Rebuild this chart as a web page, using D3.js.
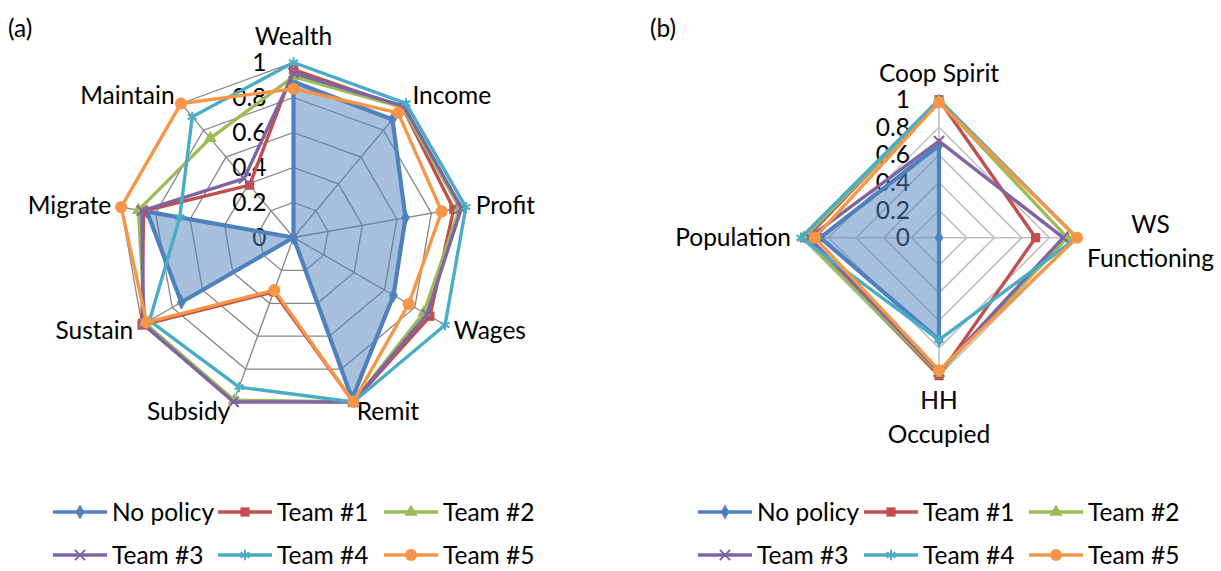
<!DOCTYPE html>
<meta charset="utf-8">
<style>
body { margin: 0; background: #fff; }
text { font-family: Lato, "Open Sans", sans-serif; font-size: 24.5px; fill: #000; }
</style>
<body>
<script src="https://cdn.jsdelivr.net/npm/d3@7"></script>
<script>

// ---- data ----
var seriesNames = ["No policy", "Team #1", "Team #2", "Team #3", "Team #4", "Team #5"];
var ticks = [0, 0.2, 0.4, 0.6, 0.8, 1];

var axesA = ["Wealth", "Income", "Profit", "Wages", "Remit", "Subsidy", "Sustain", "Migrate", "Maintain"];
var noPolicyA = [0.89, 0.88, 0.65, 0.66, 0.98, 0, 0.74, 0.85, 0];
var team1A = [0.96, 0.97, 0.93, 0.90, 1.0, 0.33, 1.0, 0.87, 0.39];
var team2A = [0.92, 0.97, 0.965, 0.86, 1.0, 0.99, 0.98, 0.90, 0.74];
var team3A = [0.94, 0.98, 0.975, 0.88, 1.0, 1.0, 0.99, 0.88, 0.44];
var team4A = [1.0, 1.0, 1.0, 1.0, 1.0, 0.91, 0.95, 0.66, 0.90];
var team5A = [0.85, 0.93, 0.86, 0.76, 1.0, 0.32, 0.97, 1.0, 1.0];

var axesB = [["Coop Spirit"], ["WS", "Functioning"], ["HH", "Occupied"], ["Population"]];
var noPolicyB = [0.67, 0, 0.74, 0.86];
var team1B = [1.0, 0.70, 1.0, 0.96];
var team2B = [0.99, 0.93, 0.98, 0.98];
var team3B = [0.70, 0.90, 0.97, 0.94];
var team4B = [1.0, 1.0, 0.74, 1.0];
var team5B = [0.98, 1.0, 0.96, 0.90];

var colors = ["#4F81BD", "#C0504D", "#9BBB59", "#8064A2", "#4BACC6", "#F79646"];
var symbols = [d3.symbolDiamond, d3.symbolSquare, d3.symbolTriangle, d3.symbolX, d3.symbolAsterisk, d3.symbolCircle];
var symSize = [65, 85, 75, 70, 75, 115];
var stroked = [false, false, false, true, true, false];

var width = 1221, height = 571;
var svg = d3.select("body").append("svg")
    .attr("width", width)
    .attr("height", height);

function radar(opt) {
  var g = svg.append("g").attr("transform", "translate(" + opt.cx + "," + opt.cy + ")");
  var n = opt.axes.length;
  var r = d3.scaleLinear().domain([0, 1]).range([0, opt.R]);
  var ang = function(i) { return i * 2 * Math.PI / n; };

  // grid rings
  var ring = d3.lineRadial()
      .angle(function(d, i) { return ang(i); })
      .radius(function(d) { return r(d); })
      .curve(d3.curveLinearClosed);
  ticks.slice(1).forEach(function(t) {
    g.append("path")
        .attr("d", ring(d3.range(n).map(function() { return t; })))
        .attr("fill", "none")
        .attr("stroke", opt.grid)
        .attr("stroke-width", opt.gridW);
  });
  // spokes
  d3.range(n).forEach(function(i) {
    g.append("line")
        .attr("x1", 0).attr("y1", 0)
        .attr("x2", r(1) * Math.sin(ang(i)))
        .attr("y2", -r(1) * Math.cos(ang(i)))
        .attr("stroke", opt.grid)
        .attr("stroke-width", opt.gridW);
  });

  // tick labels (sit under the series)
  g.selectAll(".tick").data(ticks).enter().append("text")
      .attr("x", opt.tickX)
      .attr("y", function(d) { return -r(d); })
      .attr("dy", "0.35em")
      .attr("text-anchor", "end")
      .text(function(d) { return d; });

  // axis labels
  opt.axes.forEach(function(lines, i) {
    if (typeof lines === "string") lines = [lines];
    var s = Math.sin(ang(i)), c = Math.cos(ang(i));
    var rr = opt.R + 10;
    var x = rr * s, y = -rr * c;
    var lh = 34;
    var t = g.append("text").attr("text-anchor", "middle");
    var spans = lines.map(function(l) { return t.append("tspan").text(l); });
    var maxW = d3.max(spans, function(sp) { return sp.node().getComputedTextLength(); });
    var mx;
    if (s > 0.1) mx = x + maxW / 2;
    else if (s < -0.1) mx = x - maxW / 2;
    else mx = x;
    var y0;
    if (Math.abs(s) <= 0.1) {
      if (c > 0) y0 = y - 16 - (lines.length - 1) * lh;
      else y0 = y + 15;
    } else {
      y0 = y - (lines.length - 1) * lh / 2 + (lines.length > 1 ? 4 : 0);
    }
    spans.forEach(function(sp, k) {
      sp.attr("x", mx).attr("y", y0 + k * lh).attr("dy", "0.35em");
    });
  });

  var line = d3.lineRadial()
      .angle(function(d, i) { return ang(i); })
      .radius(function(d) { return r(d); })
      .curve(d3.curveLinearClosed);

  // no policy is a filled radar
  g.append("path")
      .attr("d", line(opt.series[0]))
      .attr("fill", colors[0])
      .attr("fill-opacity", 0.5)
      .attr("stroke", "none");

  opt.series.forEach(function(vals, si) {
    var sg = g.append("g");
    sg.append("path")
        .attr("d", line(vals))
        .attr("fill", "none")
        .attr("stroke", colors[si])
        .attr("stroke-width", si == 0 ? 4.2 : 3.4)
        .attr("stroke-linejoin", "round");
    sg.selectAll("path.m").data(vals).enter().append("path")
        .attr("class", "m")
        .attr("transform", function(d, i) {
          return "translate(" + (r(d) * Math.sin(ang(i))) + "," + (-r(d) * Math.cos(ang(i))) + ")";
        })
        .attr("d", d3.symbol().type(symbols[si]).size(symSize[si]))
        .attr("fill", stroked[si] ? "none" : colors[si])
        .attr("stroke", stroked[si] ? colors[si] : "none")
        .attr("stroke-width", 2);
  });
}

function legend(x0s, y0s) {
  seriesNames.forEach(function(name, i) {
    var x = x0s[i % 3], y = y0s[Math.floor(i / 3)];
    var g = svg.append("g").attr("transform", "translate(" + x + "," + y + ")");
    g.append("line").attr("x1", 0).attr("x2", 54).attr("y1", 0).attr("y2", 0)
        .attr("stroke", colors[i]).attr("stroke-width", 3.4);
    g.append("path")
        .attr("transform", "translate(27,0)")
        .attr("d", d3.symbol().type(symbols[i]).size(symSize[i]))
        .attr("fill", stroked[i] ? "none" : colors[i])
        .attr("stroke", stroked[i] ? colors[i] : "none")
        .attr("stroke-width", 2);
    g.append("text").attr("x", 59).attr("y", 0).attr("dy", "0.35em").text(name);
  });
}

radar({
  cx: 293.5, cy: 237.5, R: 175,
  axes: axesA,
  series: [noPolicyA, team1A, team2A, team3A, team4A, team5A],
  grid: "#868686", gridW: 1.3, tickX: -27
});

radar({
  cx: 939, cy: 237.7, R: 138,
  axes: axesB,
  series: [noPolicyB, team1B, team2B, team3B, team4B, team5B],
  grid: "#C0C0C0", gridW: 1.6, tickX: -29
});

legend([53, 218, 384], [512, 555]);
legend([698, 864, 1029], [512, 555]);

svg.append("text").attr("x", 8).attr("y", 28).attr("dy", "0.35em").text("(a)");
svg.append("text").attr("x", 650).attr("y", 28).attr("dy", "0.35em").text("(b)");

</script>
</body>
